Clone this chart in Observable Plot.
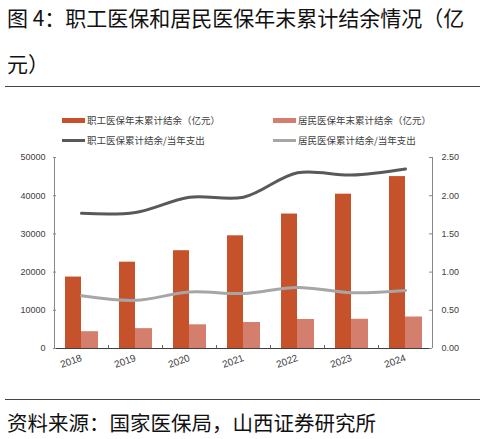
<!DOCTYPE html>
<html>
<head>
<meta charset="utf-8">
<script src="https://cdn.jsdelivr.net/npm/d3@7"></script>
<script src="https://cdn.jsdelivr.net/npm/@observablehq/plot@0.6"></script>
<style>
  body { margin: 0; background: #fff; }
  #page { position: relative; width: 485px; height: 439px; overflow: hidden; font-family: "Noto Sans CJK SC", sans-serif; }
  .title { position: absolute; left: 7px; top: -6px; font-size: 21px; line-height: 46px; color: #111; white-space: nowrap; }
  .rule { position: absolute; left: 5px; width: 475px; height: 1px; background: #444; }
  .lg { position: absolute; font-size: 9.5px; color: #404040; white-space: nowrap; display: flex; align-items: center; height: 14px; }
  .sw { display: inline-block; width: 23px; margin-right: 2px; }
  .source { position: absolute; left: 7px; top: 408px; font-size: 20.5px; line-height: 28px; color: #111; white-space: nowrap; }
  #chart { position: absolute; left: 0; top: 145px; }
</style>
</head>
<body>
<div id="page">
  <div class="title">图 4：职工医保和居民医保年末累计结余情况（亿<br>元）</div>
  <div class="rule" style="top:86px"></div>
  <div class="lg" style="left:62px;top:113px"><span class="sw" style="height:5px;background:#C5522A"></span>职工医保年末累计结余（亿元）</div>
  <div class="lg" style="left:273px;top:113px"><span class="sw" style="height:5px;background:#D47E6E"></span>居民医保年末累计结余（亿元）</div>
  <div class="lg" style="left:62px;top:133px"><span class="sw" style="height:3px;background:#595959"></span>职工医保累计结余/当年支出</div>
  <div class="lg" style="left:273px;top:133px"><span class="sw" style="height:3px;background:#A6A6A6"></span>居民医保累计结余/当年支出</div>
  <div id="chart"></div>
  <div class="rule" style="top:399px"></div>
  <div class="source">资料来源：国家医保局，山西证券研究所</div>
</div>
<script>
// 数据
const years = ["2018", "2019", "2020", "2021", "2022", "2023", "2024"];
const empBalance = [18700, 22600, 25600, 29500, 35200, 40400, 45000]; // 职工医保年末累计结余（亿元）
const resBalance = [4400, 5200, 6200, 6800, 7600, 7650, 8250];       // 居民医保年末累计结余（亿元）
const empRatio = [1.77, 1.78, 1.98, 1.98, 2.30, 2.27, 2.35];          // 职工医保累计结余/当年支出
const resRatio = [0.69, 0.63, 0.74, 0.72, 0.80, 0.73, 0.76];          // 居民医保累计结余/当年支出
const leftTicks = [0, 10000, 20000, 30000, 40000, 50000];
const rightTicks = [0, 0.5, 1, 1.5, 2, 2.5];

// 右轴 0-2.5 映射到左轴 0-50000
const k = 50000 / 2.5;

const data = years.map((year, i) => ({
  year,
  emp: empBalance[i],
  res: resBalance[i],
  empR: empRatio[i],
  resR: resRatio[i]
}));

const chart = Plot.plot({
  width: 485,
  height: 235,
  marginTop: 12,
  marginBottom: 32,
  marginLeft: 53,
  marginRight: 53,
  style: {
    fontFamily: "'Liberation Sans', Arial, sans-serif",
    fontSize: "9px",
    color: "#404040",
    background: "transparent"
  },
  x: { domain: years, padding: 0, label: null },
  y: { domain: [0, 50000], label: null },
  marks: [
    Plot.barY(data, { x: "year", y: "emp", fill: "#C5522A", insetLeft: 11, insetRight: 27 }),
    Plot.barY(data, { x: "year", y: "res", fill: "#D47E6E", insetLeft: 27, insetRight: 10 }),
    Plot.line(data, { x: "year", y: d => d.empR * k, stroke: "#595959", strokeWidth: 3, curve: "catmull-rom" }),
    Plot.line(data, { x: "year", y: d => d.resR * k, stroke: "#A6A6A6", strokeWidth: 3, curve: "catmull-rom" }),
    // 坐标轴线
    Plot.ruleX([years[0]], { x: d => d, dx: -27, stroke: "#888" }),
    Plot.ruleX([years[years.length - 1]], { x: d => d, dx: 27, stroke: "#888" }),
    Plot.ruleY([0], { stroke: "#404040" }),
    // 向内的刻度
    Plot.tickY(leftTicks, { y: d => d, insetRight: 376, stroke: "#888" }),
    Plot.tickY(rightTicks, { y: d => d * k, insetLeft: 376, stroke: "#888" }),
    Plot.tickX(years.slice(1), { x: d => d, dx: -27, insetTop: 188, stroke: "#666" }),
    Plot.axisY(leftTicks, { anchor: "left", tickSize: 0, tickPadding: 8, tickFormat: "d", label: null }),
    Plot.axisY(rightTicks.map(d => d * k), { anchor: "right", tickSize: 0, tickPadding: 9, tickFormat: d => (d / k).toFixed(2), label: null }),
    Plot.axisX({ tickSize: 0, tickPadding: 9, tickRotate: -20, fontSize: 10, label: null })
  ]
});

d3.select("#chart").append(() => chart);
</script>
</body>
</html>
